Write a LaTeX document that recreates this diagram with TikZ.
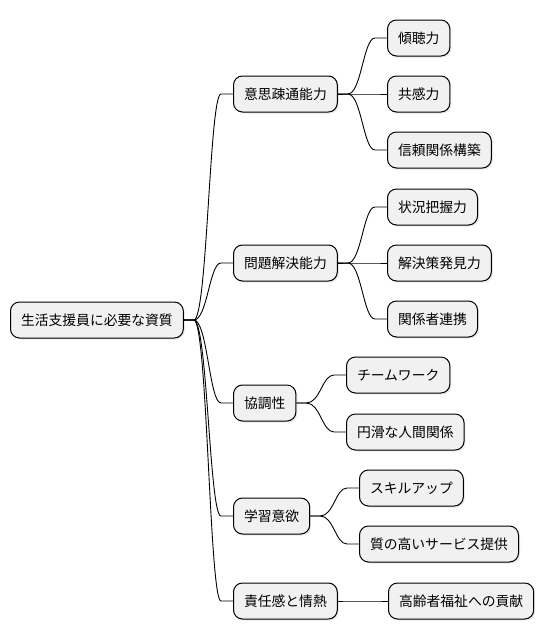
\documentclass[tikz,border=0pt]{standalone}
\usepackage{fontspec}
\newfontfamily\jp{Noto Sans CJK JP}
\usetikzlibrary{shadows,calc}
\definecolor{boxfill}{HTML}{F1F1F1}
\tikzset{
  mmbox/.style={draw=black, line width=1pt, fill=boxfill, rounded corners=9pt,
    minimum height=36pt, inner xsep=10.5pt, inner ysep=0pt, anchor=west,
    font=\jp\fontsize{13.8}{16}\selectfont,
    drop shadow={opacity=0.18, shadow xshift=1.5pt, shadow yshift=-1.5pt}},
  mmedge/.style={draw=black, line width=0.9pt}
}
\newcommand{\mmlink}[2]{%
  \draw[mmedge] let \p1=(#1.east), \p2=(#2.west) in
    (\p1) -- (\x1+10pt,\y1) .. controls ({(\x1+\x2)/2-1pt},\y1) and ({(\x1+\x2)/2+1pt},\y2) .. (\x2-12pt,\y2) -- (\p2);}
\begin{document}
\begin{tikzpicture}[x=1pt,y=-1pt]
\useasboundingbox (0,0) rectangle (544,640);
\node[mmbox] (root) at (10,320) {生活支援員に必要な資質};
\node[mmbox] (a) at (233,94) {意思疎通能力};
\node[mmbox] (b) at (233,263) {問題解決能力};
\node[mmbox] (c) at (233,403) {協調性};
\node[mmbox] (d) at (233,516) {学習意欲};
\node[mmbox] (e) at (233,601) {責任感と情熱};
\node[mmbox] (a1) at (387,38) {傾聴力};
\node[mmbox] (a2) at (387,94) {共感力};
\node[mmbox] (a3) at (387,150) {信頼関係構築};
\node[mmbox] (b1) at (387,207) {状況把握力};
\node[mmbox] (b2) at (387,263) {解決策発見力};
\node[mmbox] (b3) at (387,319) {関係者連携};
\node[mmbox] (c1) at (346,375) {チームワーク};
\node[mmbox] (c2) at (346,432) {円滑な人間関係};
\node[mmbox] (d1) at (359,488) {スキルアップ};
\node[mmbox] (d2) at (359,544) {質の高いサービス提供};
\node[mmbox] (e1) at (388,601) {高齢者福祉への貢献};
\mmlink{root}{a}
\mmlink{root}{b}
\mmlink{root}{c}
\mmlink{root}{d}
\mmlink{root}{e}
\mmlink{a}{a1}
\mmlink{a}{a2}
\mmlink{a}{a3}
\mmlink{b}{b1}
\mmlink{b}{b2}
\mmlink{b}{b3}
\mmlink{c}{c1}
\mmlink{c}{c2}
\mmlink{d}{d1}
\mmlink{d}{d2}
\mmlink{e}{e1}
\end{tikzpicture}
\end{document}
